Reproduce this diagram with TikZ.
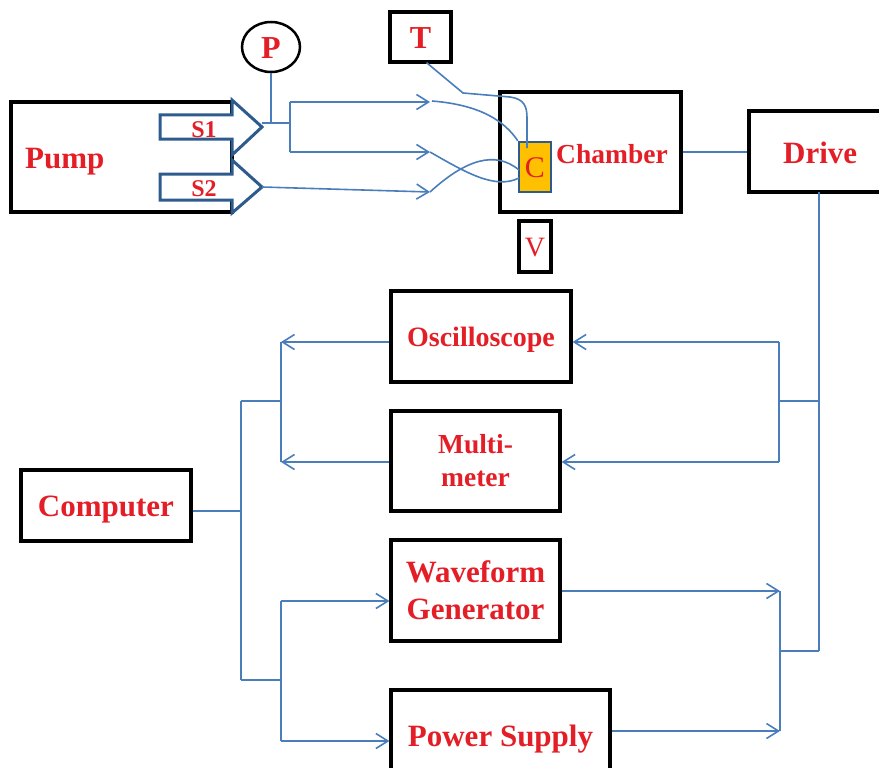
\documentclass[tikz,border=0pt]{standalone}
\usepackage{fontspec}
\setmainfont{Liberation Serif}
\usetikzlibrary{arrows.meta,shapes.geometric}
\definecolor{txtred}{HTML}{E41E26}
\definecolor{wireblue}{HTML}{4A7EBB}
\definecolor{darkblue}{HTML}{2E5B8E}
\definecolor{corange}{HTML}{FFC000}
\begin{document}
\begin{tikzpicture}[x=1pt,y=-1pt,
  box/.style={draw=black,line width=3.2pt,inner sep=0pt,fill=white,text=txtred,
    font=\bfseries\fontsize{31}{37}\selectfont},
  lbl/.style={text=txtred,inner sep=0pt,font=\bfseries\fontsize{31}{37}\selectfont},
  wire/.style={draw=wireblue,line width=1.6pt},
  arr/.style={wire,-{Straight Barb[length=12pt,width=15pt]}},
  blockarrow/.style={draw=darkblue,line width=3pt,fill=white,line join=miter},
]
\useasboundingbox (0,0) rectangle (879,768);
\clip (0,0) rectangle (879,768);

% ---------- pump ----------
\node[box,minimum width=221pt,minimum height=110pt] (pump) at (121.5,157) {};
\node[lbl,anchor=base west] (pumplbl) at (25,168) {Pump};
\draw[blockarrow] (160,115) -- (232,115) -- (232,100) -- (262,127) -- (232,155) -- (232,139) -- (160,139) -- cycle;
\draw[blockarrow] (160,174) -- (232,174) -- (232,160) -- (262,187) -- (232,213) -- (232,200) -- (160,200) -- cycle;
\node[lbl,font=\bfseries\fontsize{24}{26}\selectfont] (s1lbl) at (204,130) {S1};
\node[lbl,font=\bfseries\fontsize{24}{26}\selectfont] (s2lbl) at (204,189) {S2};
\coordinate (s1o) at (262,123);
\coordinate (s2o) at (262,187);

% ---------- sensors ----------
\node[box,ellipse,line width=2.5pt,minimum width=58pt,minimum height=50pt,
  text height=23pt,text depth=0pt,font=\bfseries\fontsize{32}{36}\selectfont] (P) at (271,47) {P};
\node[box,minimum width=61pt,minimum height=50pt,text height=23pt,text depth=0pt,
  font=\bfseries\fontsize{32}{36}\selectfont] (T) at (420.5,37) {T};

% ---------- chamber ----------
\node[box,minimum width=181pt,minimum height=120pt] (chamber) at (590.5,152) {};
\node[lbl,anchor=base west,font=\bfseries\fontsize{27.5}{30}\selectfont] (chamberlbl) at (556,163) {Chamber};
\node[box,draw=darkblue,fill=corange,line width=2.5pt,minimum width=32pt,minimum height=50pt,
  text height=20pt,text depth=0pt,font=\fontsize{30}{32}\selectfont] (C) at (535,167) {C};
\node[box,minimum width=32pt,minimum height=51pt,text height=19pt,text depth=0pt,
  font=\fontsize{28}{30}\selectfont] (V) at (535,246.5) {V};

% ---------- drive ----------
\node[box,minimum width=151pt,minimum height=81pt] (drive) at (824.5,151.5) {};
\node[lbl,anchor=base west] (drivelbl) at (783,164) {Drive};

% ---------- instruments ----------
\node[box,minimum width=180pt,minimum height=91pt,text height=20pt,text depth=0pt,
  font=\bfseries\fontsize{28}{32}\selectfont] (osc) at (481,336.5) {Oscilloscope};
\node[box,minimum width=169pt,minimum height=100pt,align=center,
  font=\bfseries\fontsize{27.5}{33}\selectfont] (mm) at (475.5,461) {Multi-\\meter};
\node[box,minimum width=169pt,minimum height=101pt,align=center] (wf) at (475.5,590.5) {Waveform\\Generator};
\node[box,minimum width=219pt,minimum height=90pt,text height=22pt,text depth=0pt] (ps) at (500.5,735) {Power Supply};
\node[box,minimum width=170pt,minimum height=71pt,text height=22pt,text depth=0pt] (comp) at (106,505.5) {Computer};

% ---------- fluid connections ----------
\coordinate (jp) at (271,123);
\coordinate (jb) at (290,123);
\coordinate (jb1) at (290,102);
\coordinate (jb2) at (290,152);
\coordinate (a1) at (430,102);
\coordinate (a2) at (430,152);
\coordinate (a3) at (430,192);
\draw[wire] (s1o) -- (jb);
\draw[wire] (P) -- (jp);
\draw[wire] (jb1) -- (jb2);
\draw[arr] (jb1) -- (a1);
\draw[arr] (jb2) -- (a2);
\draw[arr] (s2o) -- (a3);
\draw[wire] (a1) ++(2,-1) .. controls (482,105) and (505,122) .. (C.north west);
\draw[wire] (a2) .. controls (465,172) and (495,190) .. (519,178);
\draw[wire] (a3) .. controls (465,160) and (495,150) .. (519,170);
\draw[wire] (T.south) ++(6,-1) -- (463,93) -- (510,97) .. controls (524,99) and (527,106) .. (527,118) -- (527,148);

% ---------- electrical connections ----------
\draw[wire] (chamber.east) -- (drive.west |- chamber.east);
\coordinate (dtop) at (819,192);
\coordinate (dmid) at (819,401);
\coordinate (dbot) at (819,651);
\draw[wire] (dtop) -- (dbot);
\coordinate (rm) at (779,401);
\coordinate (ro) at (779,342);
\coordinate (rmm) at (779,462);
\draw[wire] (dmid) -- (rm);
\draw[wire] (ro) -- (rmm);
\draw[arr] (ro) -- (osc.east |- ro);
\draw[arr] (rmm) -- (mm.east |- rmm);
\coordinate (rb) at (780,651);
\coordinate (rw) at (780,591);
\coordinate (rp) at (780,731);
\draw[wire] (dbot) -- (rb);
\draw[wire] (rw) -- (rp);
\draw[arr] (wf.east |- rw) -- (rw);
\draw[arr] (ps.east |- rp) -- (rp);

\coordinate (c0) at (241,511);
\coordinate (ctop) at (241,401);
\coordinate (cbot) at (241,680);
\coordinate (lt) at (281,401);
\coordinate (lo) at (281,342);
\coordinate (lm) at (281,462);
\coordinate (lb) at (281,680);
\coordinate (lw) at (281,601);
\coordinate (lp) at (281,741);
\draw[wire] (comp.east |- c0) -- (c0);
\draw[wire] (ctop) -- (cbot);
\draw[wire] (ctop) -- (lt);
\draw[wire] (lo) -- (lm);
\draw[arr] (osc.west |- lo) -- (lo);
\draw[arr] (mm.west |- lm) -- (lm);
\draw[wire] (cbot) -- (lb);
\draw[wire] (lw) -- (lp);
\draw[arr] (lw) -- (wf.west |- lw);
\draw[arr] (lp) -- (ps.west |- lp);
\end{tikzpicture}
\end{document}
